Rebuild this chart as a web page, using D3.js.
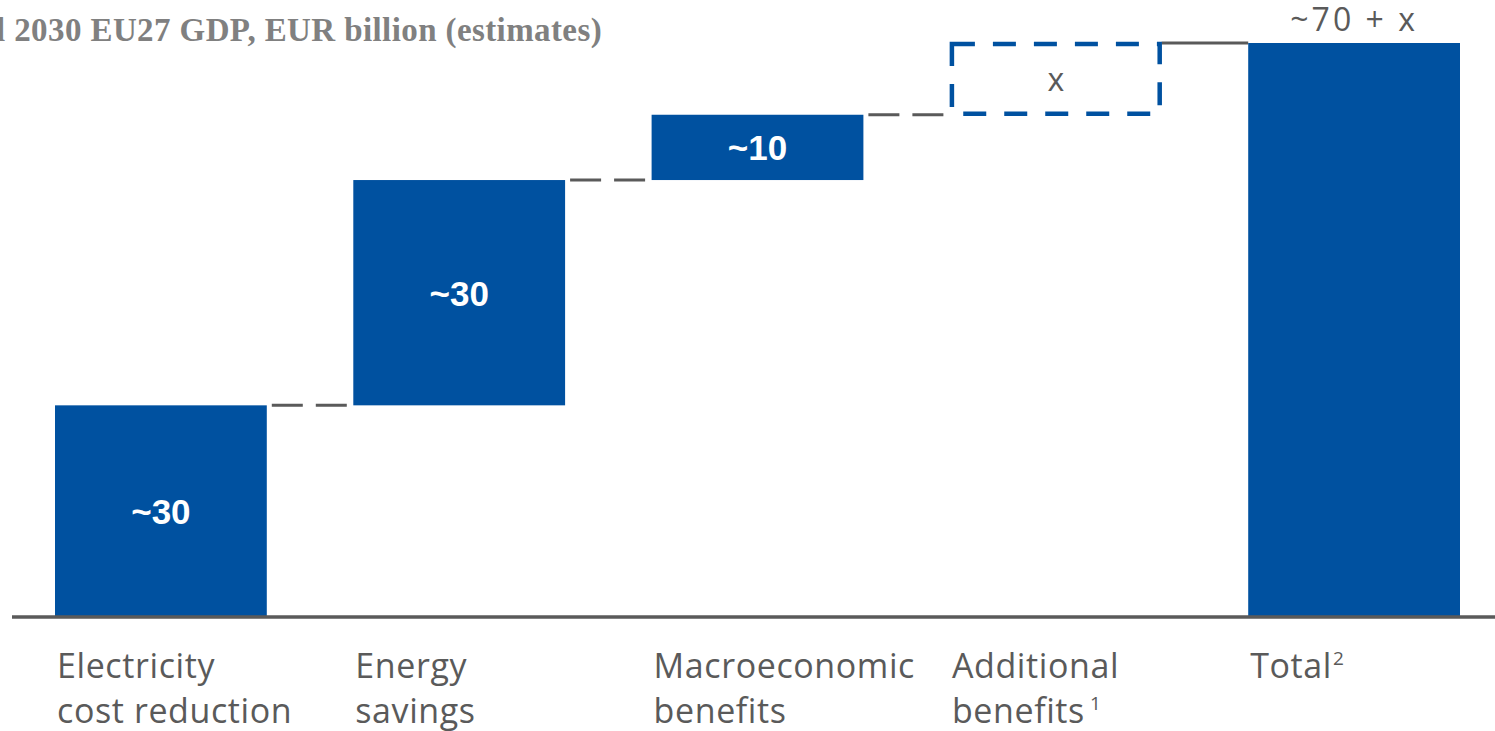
<!DOCTYPE html>
<html>
<head>
<meta charset="utf-8">
<script src="https://cdn.jsdelivr.net/npm/d3@7"></script>
<style>
  body { margin: 0; background: #fff; }
  svg { display: block; }
</style>
</head>
<body>
<svg id="chart"></svg>
<script>
// chart data
const categories = ["Electricity cost reduction", "Energy savings", "Macroeconomic benefits", "Additional benefits", "Total"];
const labelLines = [["Electricity", "cost reduction"], ["Energy", "savings"], ["Macroeconomic", "benefits"], ["Additional", "benefits"], ["Total"]];
const footnotes = ["", "", "", "1", "2"];
const values = [29.5, 31.4, 9.1, 10.0];
const valueLabels = ["~30", "~30", "~10", "x", "~70 + x"];
const title = "l 2030 EU27 GDP, EUR billion (estimates)";

const W = 1495, H = 731;
const blue = "#0051a0", grey = "#5a5a5a";

const svg = d3.select("#chart").attr("width", W).attr("height", H);

// build waterfall steps
let run = 0;
const steps = values.map((v, i) => {
    const s = { cat: categories[i], start: run, end: run + v, label: valueLabels[i], dashed: i === 3 };
    run += v;
    return s;
});
steps.push({ cat: categories[4], start: 0, end: run, label: valueLabels[4], total: true });

const x = d3.scaleBand()
    .domain(categories)
    .range([55, 1460])
    .paddingInner(0.29)
    .paddingOuter(0);

const y = d3.scaleLinear()
    .domain([0, 80])
    .range([617, 43]);

// title (clipped at left)
svg.append("text")
    .attr("x", -4)
    .attr("y", 41)
    .attr("font-family", "Liberation Serif, DejaVu Serif, serif")
    .attr("font-weight", "bold")
    .attr("font-size", 33)
    .attr("letter-spacing", 0.4)
    .attr("fill", "#808080")
    .text(title);

// connectors
steps.slice(0, -1).forEach((s, i) => {
    const next = steps[i + 1];
    const x0 = x(s.cat) + x.bandwidth();
    const x1 = x(next.cat);
    const solid = i === 3;
    svg.append("line")
        .attr("x1", solid ? x0 : x0 + 5)
        .attr("x2", x1)
        .attr("y1", y(s.end))
        .attr("y2", y(s.end))
        .attr("stroke", grey)
        .attr("stroke-width", 3)
        .attr("stroke-dasharray", solid ? null : "31,13");
});

// bars
steps.forEach(s => {
    const r = svg.append("rect")
        .attr("x", x(s.cat))
        .attr("width", x.bandwidth())
        .attr("y", y(s.end))
        .attr("height", y(s.start) - y(s.end));
    if (s.dashed) {
        r.attr("x", x(s.cat) + 2)
            .attr("width", x.bandwidth() - 4)
            .attr("y", y(s.end) + 1)
            .attr("height", y(s.start) - y(s.end) - 2)
            .attr("fill", "none")
            .attr("stroke", blue)
            .attr("stroke-width", 4.5)
            .attr("stroke-dasharray", "23,18");
    } else {
        r.attr("fill", blue);
    }
});

// value labels
steps.forEach(s => {
    const cx = x(s.cat) + x.bandwidth() / 2;
    if (s.total) {
        svg.append("text")
            .attr("x", cx)
            .attr("y", 31)
            .attr("text-anchor", "middle")
            .attr("font-family", "Open Sans, sans-serif")
            .attr("font-size", 32)
            .attr("letter-spacing", 3)
            .attr("fill", grey)
            .text(s.label);
    } else if (s.dashed) {
        svg.append("text")
            .attr("x", cx)
            .attr("y", (y(s.start) + y(s.end)) / 2 + 12)
            .attr("text-anchor", "middle")
            .attr("font-family", "Open Sans, sans-serif")
            .attr("font-size", 32)
            .attr("fill", grey)
            .text(s.label);
    } else {
        svg.append("text")
            .attr("x", cx)
            .attr("y", (y(s.start) + y(s.end)) / 2 + 13)
            .attr("text-anchor", "middle")
            .attr("font-family", "Liberation Sans, Arial, sans-serif")
            .attr("font-weight", "bold")
            .attr("font-size", 35)
            .attr("fill", "#fff")
            .text(s.label);
    }
});

// baseline
svg.append("line")
    .attr("x1", 12).attr("x2", W)
    .attr("y1", y(0)).attr("y2", y(0))
    .attr("stroke", grey)
    .attr("stroke-width", 3.5);

// category labels
categories.forEach((c, i) => {
    const t = svg.append("text")
        .attr("x", x(c) + 2)
        .attr("y", 678)
        .attr("font-family", "Open Sans, sans-serif")
        .attr("font-size", 34)
        .attr("letter-spacing", 0.6)
        .attr("fill", grey);
    labelLines[i].forEach((line, j) => {
        const last = j === labelLines[i].length - 1;
        t.append("tspan")
            .attr("x", x(c) + 2)
            .attr("dy", j === 0 ? 0 : 45)
            .text(line);
        if (last && footnotes[i]) {
            t.append("tspan")
                .attr("font-size", 19)
                .attr("dx", footnotes[i] === "1" ? 5 : 1)
                .attr("dy", -13)
                .text(footnotes[i]);
        }
    });
});
</script>
</body>
</html>
